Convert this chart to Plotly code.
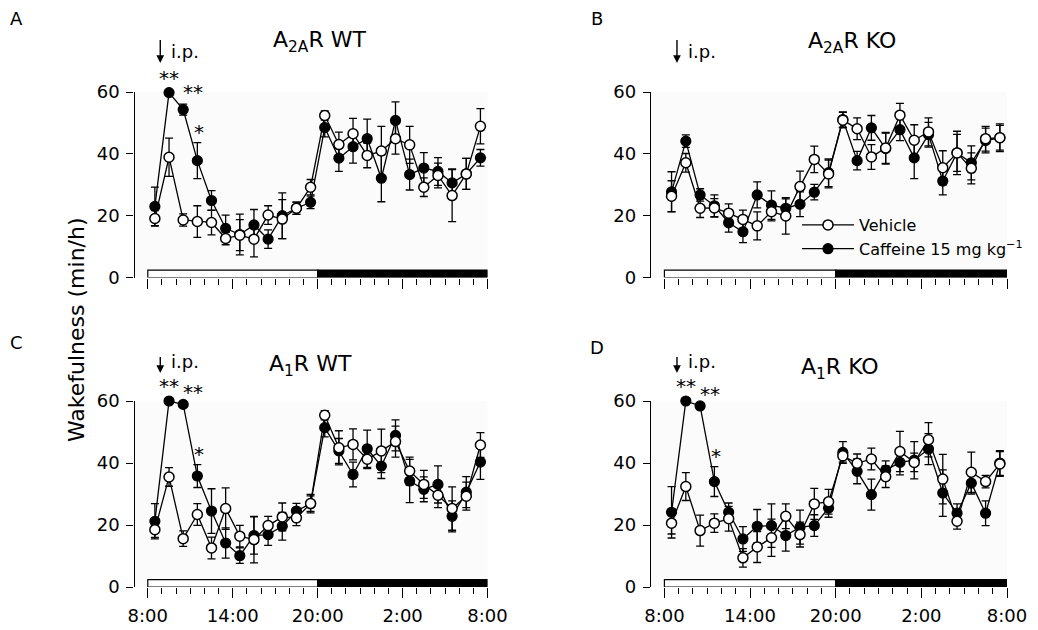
import plotly.graph_objects as go

# ---------------- data ----------------
time_bins = [0.5, 1.5, 2.5, 3.5, 4.5, 5.5, 6.5, 7.5, 8.5, 9.5, 10.5, 11.5,
             12.5, 13.5, 14.5, 15.5, 16.5, 17.5, 18.5, 19.5, 20.5, 21.5, 22.5, 23.5]
tick_vals = [0, 6, 12, 18, 24]
tick_text = ["8:00", "14:00", "20:00", "2:00", "8:00"]
minor_tick_vals = list(range(25))
y_ticks = [0, 20, 40, 60]
injection_time = 0.88
light_phase = (0, 12)
dark_phase = (12, 24)

titles = {"A": "A<sub>2A</sub>R WT", "B": "A<sub>2A</sub>R KO",
          "C": "A<sub>1</sub>R WT", "D": "A<sub>1</sub>R KO"}

veh_A = [19.1, 38.9, 18.6, 18.1, 17.8, 12.6, 13.7, 12.4, 20.2, 18.9, 22.4, 29.2,
         52.4, 43.0, 46.5, 39.5, 40.9, 44.9, 42.9, 29.2, 33.0, 26.5, 33.5, 48.9]
veh_A_sem = [2.5, 6.2, 2.0, 5.1, 4.0, 2.0, 5.0, 5.7, 3.0, 6.3, 2.0, 2.5,
             1.5, 4.0, 5.0, 4.0, 8.0, 5.0, 6.0, 3.0, 4.0, 8.4, 5.0, 5.7]
caf_A = [23.0, 59.8, 54.3, 37.8, 24.9, 15.9, 13.9, 17.0, 12.4, 20.0, 22.4, 24.3,
         48.5, 38.6, 42.3, 44.9, 32.1, 50.8, 33.3, 35.4, 34.3, 30.6, 33.5, 38.7]
caf_A_sem = [6.2, 0.0, 1.8, 5.8, 3.2, 4.3, 6.6, 5.0, 3.0, 7.4, 2.0, 2.0,
             3.0, 4.3, 5.3, 6.3, 7.6, 6.0, 5.0, 5.0, 4.5, 4.5, 5.0, 2.7]

veh_B = [26.3, 37.1, 22.4, 22.5, 20.8, 18.8, 16.7, 21.3, 19.9, 29.4, 38.2, 33.5,
         50.9, 48.1, 39.0, 41.9, 52.5, 44.4, 47.1, 35.5, 40.3, 35.3, 44.9, 45.2]
veh_B_sem = [5.0, 3.0, 3.0, 3.0, 3.0, 3.0, 4.5, 3.0, 5.9, 5.0, 4.3, 4.5,
             2.5, 3.5, 4.0, 5.0, 3.8, 5.0, 4.5, 5.5, 6.0, 5.0, 4.0, 4.0]
caf_B = [27.7, 44.1, 26.7, 23.2, 17.7, 14.8, 26.7, 23.4, 22.4, 23.7, 27.6, 33.9,
         51.1, 37.8, 48.4, 41.7, 47.8, 38.7, 46.2, 31.2, 40.3, 37.1, 44.3, 45.2]
caf_B_sem = [6.5, 2.0, 2.0, 3.5, 3.0, 3.5, 4.2, 4.6, 3.0, 4.0, 2.5, 4.5,
             2.5, 3.0, 4.0, 5.0, 3.5, 6.7, 4.0, 4.5, 7.0, 5.5, 4.0, 4.5]

veh_C = [18.5, 35.5, 15.6, 23.4, 12.6, 25.3, 16.4, 15.3, 19.8, 22.6, 22.3, 26.9,
         55.4, 44.9, 46.0, 41.2, 43.9, 46.9, 37.4, 33.1, 29.6, 25.3, 29.3, 45.8]
veh_C_sem = [2.5, 3.0, 2.5, 3.5, 3.5, 6.7, 3.5, 7.5, 3.0, 4.5, 2.5, 3.0,
             1.5, 5.5, 5.0, 3.0, 7.0, 5.0, 4.5, 4.5, 4.0, 7.0, 4.5, 4.0]
caf_C = [21.2, 60.0, 58.9, 35.8, 24.5, 14.2, 10.1, 16.6, 16.9, 19.6, 24.5, 26.9,
         51.4, 43.9, 36.3, 44.6, 39.0, 48.9, 34.2, 31.5, 33.1, 22.8, 30.6, 40.3]
caf_C_sem = [5.7, 0.0, 0.0, 3.7, 7.2, 4.9, 2.5, 6.0, 3.5, 4.5, 2.5, 2.5,
             3.0, 4.0, 4.0, 6.0, 4.0, 5.0, 7.0, 4.0, 6.0, 5.0, 5.0, 5.6]

veh_D = [20.6, 32.4, 18.2, 20.6, 22.0, 9.4, 12.9, 15.9, 22.8, 16.9, 26.8, 27.5,
         42.3, 39.9, 41.3, 35.6, 43.7, 40.2, 47.5, 34.8, 21.2, 37.0, 34.0, 39.7]
veh_D_sem = [3.5, 4.5, 5.0, 3.0, 4.0, 3.0, 5.0, 6.0, 4.0, 4.0, 5.0, 4.0,
             2.0, 3.0, 3.5, 3.5, 6.5, 3.0, 5.5, 8.0, 2.5, 6.5, 2.0, 4.0]
caf_D = [24.1, 60.0, 58.4, 34.0, 24.1, 15.5, 19.6, 19.8, 16.6, 19.3, 19.8, 25.5,
         43.4, 37.3, 29.8, 37.7, 40.2, 40.9, 44.5, 30.3, 23.8, 33.5, 23.8, 40.0]
caf_D_sem = [8.3, 0.0, 0.0, 4.8, 3.0, 4.0, 5.4, 7.0, 5.0, 5.5, 3.5, 3.0,
             3.5, 4.0, 5.0, 3.0, 4.0, 6.0, 5.0, 7.5, 3.0, 3.5, 4.0, 4.0]

# significance marks: (time-bin index, label)
sig_A = [(1, "**"), (2, "**"), (3, "*")]
sig_B = []
sig_C = [(1, "**"), (2, "**"), (3, "*")]
sig_D = [(1, "**"), (2, "**"), (3, "*")]

panels = {
    "A": dict(veh=veh_A, veh_sem=veh_A_sem, caf=caf_A, caf_sem=caf_A_sem, sig=sig_A),
    "B": dict(veh=veh_B, veh_sem=veh_B_sem, caf=caf_B, caf_sem=caf_B_sem, sig=sig_B),
    "C": dict(veh=veh_C, veh_sem=veh_C_sem, caf=caf_C, caf_sem=caf_C_sem, sig=sig_C),
    "D": dict(veh=veh_D, veh_sem=veh_D_sem, caf=caf_D, caf_sem=caf_D_sem, sig=sig_D),
}

# ---------------- layout geometry (styling) ----------------
W, H = 1038, 630
FONT = "DejaVu Sans"


def px(x):
    return x / W


def py(y):
    return 1 - y / H


col_dom = {"L": [px(134.5), px(487.5)], "R": [px(651), px(1007)]}
row_dom = {"T": [py(277.5), py(92)], "Bm": [py(587), py(401)]}
panel_pos = {"A": ("L", "T"), "B": ("R", "T"), "C": ("L", "Bm"), "D": ("R", "Bm")}
letter_pos = {"A": (16, 18), "B": (597, 18), "C": (16, 343), "D": (597, 347)}
title_pos = {"A": (319, 42), "B": (852, 43), "C": (310, 365), "D": (840, 368)}
arrow_tip = {"T": (63, 25), "Bm": (373, 18)}
ip_y = {"T": 51, "Bm": 361}
star_xshift = {1: 0, 2: 10, 3: 2}
star_yshift = {1: 15, 2: 12, 3: 11}

fig = go.Figure()
annotations = []
shapes = []

for i, key in enumerate(["A", "B", "C", "D"]):
    n = "" if i == 0 else str(i + 1)
    xa, ya = "x" + n, "y" + n
    col, row = panel_pos[key]
    p = panels[key]
    legend_on = key == "B"

    fig.add_trace(go.Scatter(
        x=time_bins, y=p["caf"], xaxis=xa, yaxis=ya, mode="lines+markers",
        name="Caffeine 15 mg kg<sup>\u22121</sup>", showlegend=legend_on, legendrank=2,
        line=dict(color="black", width=1.3),
        marker=dict(symbol="circle", size=10, color="black", line=dict(color="black", width=1.2)),
        error_y=dict(type="data", array=p["caf_sem"], color="black", thickness=1.3, width=4),
        cliponaxis=False))
    fig.add_trace(go.Scatter(
        x=time_bins, y=p["veh"], xaxis=xa, yaxis=ya, mode="lines+markers",
        name="Vehicle", showlegend=legend_on, legendrank=1,
        line=dict(color="black", width=1.3),
        marker=dict(symbol="circle", size=10, color="white", line=dict(color="black", width=1.5)),
        error_y=dict(type="data", array=p["veh_sem"], color="black", thickness=1.3, width=4),
        cliponaxis=False))

    show_labels = row == "Bm"
    fig.update_layout(**{
        ("xaxis" + n): dict(
            domain=col_dom[col], anchor=ya, range=[-0.94, 24], automargin=False,
            showline=False, showgrid=False, zeroline=False,
            tickmode="array", tickvals=tick_vals, ticktext=tick_text,
            showticklabels=show_labels,
            ticks="outside", ticklen=10, tickwidth=1.3, tickcolor="black",
            minor=dict(tickmode="array", tickvals=minor_tick_vals, ticks="outside",
                       ticklen=6, tickwidth=1.2, tickcolor="black"),
            tickfont=dict(family=FONT, size=18, color="black"), ticklabelstandoff=2,
            fixedrange=True),
        ("yaxis" + n): dict(
            domain=row_dom[row], anchor=xa, range=[0, 60], automargin=False,
            showline=True, linecolor="black", linewidth=1.3,
            showgrid=False, zeroline=False,
            tickmode="array", tickvals=y_ticks, ticks="outside", ticklen=7,
            tickwidth=1.3, tickcolor="black",
            tickfont=dict(family=FONT, size=18, color="black"), ticklabelstandoff=3,
            fixedrange=True),
    })

    # light / dark bar
    for (x0, x1), fill in [(light_phase, "white"), (dark_phase, "black")]:
        shapes.append(dict(type="rect", xref=xa, yref=ya, x0=x0, x1=x1, y0=0, y1=2.4,
                           fillcolor=fill, line=dict(color="black", width=1.2), layer="above"))

    # panel letter
    lx, ly = letter_pos[key]
    annotations.append(dict(text=key, x=px(lx), y=py(ly), xref="paper", yref="paper",
                            showarrow=False, xanchor="center", yanchor="middle",
                            font=dict(family=FONT, size=18, color="black")))
    # title
    tx, ty = title_pos[key]
    annotations.append(dict(text=titles[key], x=px(tx), y=py(ty), xref="paper", yref="paper",
                            showarrow=False, xanchor="center", yanchor="middle",
                            font=dict(family=FONT, size=22, color="black")))
    # injection arrow + label
    tip_y, alen = arrow_tip[row]
    annotations.append(dict(text=" ", x=injection_time, y=py(tip_y), xref=xa, yref="paper",
                            showarrow=True, ax=0, ay=-alen, arrowhead=2, arrowsize=1.1,
                            arrowwidth=1.4, arrowcolor="black", standoff=0,
                            font=dict(family=FONT, size=1, color="black")))
    annotations.append(dict(text="i.p.", x=injection_time, y=py(ip_y[row]), xref=xa, yref="paper",
                            showarrow=False, xanchor="left", yanchor="middle", xshift=9,
                            font=dict(family=FONT, size=18, color="black")))
    # significance stars
    for idx, lab in p["sig"]:
        annotations.append(dict(text=lab, x=time_bins[idx], y=p["caf"][idx] + p["caf_sem"][idx],
                                xref=xa, yref=ya, showarrow=False, xanchor="center",
                                yanchor="middle", yshift=star_yshift[idx], xshift=star_xshift[idx],
                                font=dict(family=FONT, size=20, color="black")))

annotations.append(dict(text="Wakefulness (min/h)", x=px(76), y=py(330), xref="paper", yref="paper",
                        showarrow=False, textangle=-90, xanchor="center", yanchor="middle",
                        font=dict(family=FONT, size=22, color="black")))

fig.update_layout(
    template="none",
    width=W, height=H, margin=dict(l=0, r=0, t=0, b=0, pad=0, autoexpand=False),
    paper_bgcolor="white", plot_bgcolor="#fbfbfb",
    annotations=annotations, shapes=shapes,
    legend=dict(x=px(797), y=py(208), xanchor="left", yanchor="top",
                bgcolor="rgba(0,0,0,0)", itemwidth=52, tracegroupgap=0,
                font=dict(family=FONT, size=16, color="black")),
    font=dict(family=FONT, color="black"),
)

fig.write_html("out.html", config={"displayModeBar": False},
               post_script="document.body.style.margin='0';document.body.style.overflow='hidden';")
